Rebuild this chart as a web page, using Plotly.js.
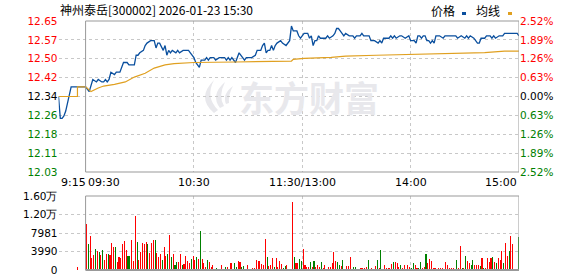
<!DOCTYPE html>
<html><head><meta charset="utf-8">
<script src="https://cdn.plot.ly/plotly-3.0.1.min.js"></script>
<style>html,body{margin:0;padding:0;background:#fff;overflow:hidden}#chart{width:578px;height:276px}</style>
</head><body><div id="chart"></div>
<script>
// ---------- data ----------
const titleText = "神州泰岳[300002] 2026-01-23 15:30";
const preClose = 12.34;
const pctSteps = [-4, -3, -2, -1, 0, 1, 2, 3, 4];          // multiples of 0.63 %
const priceTickLabels = ["12.03","12.11","12.18","12.26","12.34","12.42","12.50","12.57","12.65"];
const pctTickLabels = ["2.52%","1.89%","1.26%","0.63%","0.00%","0.63%","1.26%","1.89%","2.52%"];
const volTickVals = [0, 3990, 7981, 11971, 15962];
const volTickLabels = ["0", "3990", "7981", "1.20万", "1.60万"];
const timeTickVals = [-15, 0, 60, 120, 180, 240];        // minutes from 09:30
const timeTickLabels = ["9:15", "09:30", "10:30", "11:30/13:00", "14:00", "15:00"];
const legendNames = ["价格", "均线"];
const watermarkText = "东方财富";

// pre-market auction (minutes before 09:30)
const preTime  = [-15, -14, -13, -12, -11, -10, -9, -8, -5, 0];
const prePrice = [12.34, 12.25, 12.25, 12.26, 12.28, 12.31, 12.35, 12.38, 12.38, 12.38];
const preAvgTime = [-15, -4.5, 0];
const preAvg     = [12.34, 12.38, 12.38];
const preVolTime = [-5];
const preVol     = [580];

// continuous session (minutes from 09:30; 11:30/13:00 = 120)
const sessTime = [0,2,4,6,7,9,10,11,12,13,14,16,17,19,20,21,23,24,27,28,29,30,32,33,34,36,38,39,40,41,43,44,45,46,47,48,50,51,52,54,55,57,58,59,60,61,62,63,64,66,67,68,69,71,72,74,77,78,79,80,81,82,83,85,86,87,88,89,92,94,95,97,98,99,100,101,102,103,104,105,106,108,109,111,112,113,114,115,117,118,119,120,121,123,124,125,126,127,128,129,130,132,133,134,135,137,138,139,140,141,142,143,144,146,148,149,150,152,153,154,157,158,160,162,163,164,165,167,168,169,170,171,172,174,175,177,179,180,182,183,184,185,186,187,188,189,190,191,192,193,194,196,198,199,201,204,205,206,208,210,211,212,213,215,216,217,218,219,221,222,224,225,226,227,229,230,231,232,233,235,236,238,239,240];
const sessPrice = [12.38,12.36,12.41,12.40,12.41,12.40,12.40,12.41,12.40,12.41,12.44,12.43,12.44,12.44,12.46,12.48,12.48,12.47,12.47,12.51,12.51,12.52,12.53,12.55,12.56,12.57,12.57,12.54,12.56,12.56,12.53,12.55,12.51,12.53,12.52,12.53,12.52,12.53,12.52,12.53,12.53,12.53,12.52,12.51,12.50,12.48,12.47,12.46,12.49,12.49,12.50,12.49,12.50,12.50,12.49,12.50,12.50,12.49,12.50,12.49,12.50,12.49,12.48,12.52,12.51,12.50,12.49,12.50,12.50,12.51,12.53,12.53,12.55,12.56,12.52,12.53,12.53,12.55,12.53,12.55,12.56,12.57,12.56,12.55,12.56,12.57,12.63,12.61,12.61,12.59,12.58,12.59,12.60,12.60,12.58,12.59,12.55,12.57,12.57,12.59,12.58,12.58,12.58,12.59,12.58,12.59,12.60,12.62,12.62,12.61,12.60,12.59,12.60,12.59,12.59,12.58,12.59,12.59,12.60,12.59,12.59,12.57,12.57,12.56,12.57,12.56,12.58,12.58,12.58,12.59,12.58,12.59,12.58,12.59,12.59,12.58,12.59,12.57,12.57,12.56,12.59,12.59,12.58,12.59,12.59,12.57,12.57,12.56,12.57,12.56,12.59,12.59,12.58,12.59,12.59,12.59,12.59,12.58,12.59,12.58,12.59,12.58,12.59,12.58,12.57,12.56,12.56,12.58,12.58,12.59,12.59,12.58,12.59,12.58,12.59,12.59,12.59,12.60,12.60,12.60,12.60,12.60,12.60,12.59];
const avgTime  = [0,3,7,10,16,22,27,33,38,41,44,49,60,83,99,114,115,121,136,144,161,181,205,221,232,240];
const avgPrice = [12.38,12.36,12.375,12.383,12.39,12.40,12.42,12.436,12.457,12.465,12.47,12.475,12.48,12.482,12.484,12.486,12.493,12.497,12.501,12.506,12.51,12.514,12.517,12.521,12.527,12.527];

// volume per minute (index = minutes from 09:30), direction 1 = up (red), -1 = down (green)
const volume = [9920,5610,7330,2590,3240,4460,4100,3880,3240,4310,2160,3450,3450,3240,5900,5030,5030,1800,2880,2590,
5610,6330,4310,3020,3020,6470,2010,11650,6040,2160,3960,5900,5610,6040,5610,3740,5750,6470,6470,3600,
2880,3450,2160,5030,3020,3450,7550,2880,3450,1080,1800,1800,3450,1080,1290,3020,2010,1580,2300,3020,
2160,2730,2300,8480,2300,1580,720,2160,1800,580,1080,290,430,220,220,1080,300,580,720,300,
1440,300,1440,580,2010,1800,580,860,300,1080,300,300,360,360,2160,1940,1940,1290,1080,6620,
2730,860,1080,2590,720,2520,580,1940,1290,360,860,1080,220,220,14670,2730,1440,1580,2370,1940,
4460,1080,580,580,1730,580,1940,580,1080,580,1730,360,1080,290,580,580,1440,3880,1940,1730,
1080,860,2160,300,860,860,2730,290,580,580,290,220,360,430,430,580,2160,300,430,300,
860,2160,430,4310,300,1080,360,430,430,1290,1730,1730,1580,580,1010,430,1010,300,1010,580,
430,1580,1010,430,430,1730,430,720,3450,1580,2370,1870,430,430,300,430,430,430,300,1730,
1150,430,430,430,290,2160,430,5180,430,430,2950,2010,1440,1010,2160,1010,1010,1010,860,2590,
430,430,2590,1730,2590,2880,1730,1580,2590,2160,4170,1580,5750,3020,4170,7330,5610,0,0,7120];
const volDir = [1,-1,1,1,1,-1,1,-1,1,-1,1,1,-1,1,1,1,-1,1,1,1,
1,1,1,-1,-1,1,1,1,-1,1,1,1,1,1,-1,1,1,1,-1,1,
1,1,-1,1,1,-1,1,-1,1,-1,-1,1,1,-1,1,1,1,1,-1,1,
1,-1,1,-1,1,1,1,-1,1,1,1,-1,-1,1,1,1,1,-1,1,1,
1,-1,-1,-1,1,1,-1,-1,1,1,1,1,1,1,1,1,1,1,1,1,
-1,1,1,1,-1,1,1,1,1,-1,-1,1,1,1,1,-1,1,1,-1,-1,
1,1,1,1,-1,1,-1,1,1,1,-1,1,1,-1,1,1,1,1,1,-1,
-1,1,-1,1,1,1,1,1,-1,-1,1,1,1,1,1,1,-1,1,1,1,
1,-1,1,-1,1,1,1,1,1,1,-1,1,1,1,-1,1,1,1,1,1,
-1,-1,1,1,-1,-1,1,1,-1,1,1,1,1,1,1,1,1,1,1,1,
1,1,1,1,1,-1,1,1,-1,1,-1,1,1,-1,-1,1,1,1,-1,1,
-1,1,1,1,1,-1,1,-1,1,1,1,-1,1,1,-1,1,1,1,1,-1];

// ---------- styles ----------
const W = 578, H = 276;
const RED = "#ff0000", GREEN = "#008000", BLUE = "#0a4f9e", ORANGE = "#e0a020";
const GRID = "#c8c8c8", FRAME = "#999999";
const px = x => x / W, py = y => 1 - y / H;

const priceVals = pctSteps.map(k => preClose * (1 + k * 0.0063));
const colorFor = k => k > 0 ? RED : (k < 0 ? GREEN : "#000000");
const leftText = pctSteps.map((k, i) => `<span style="color:${colorFor(k)}">${priceTickLabels[i]}</span>`);
const rightText = pctSteps.map((k, i) => `<span style="color:${colorFor(k)}">${pctTickLabels[i]}</span>`);
const yMin = preClose * (1 - 0.0252), yMax = preClose * (1 + 0.0252);

const volX = volume.map((v, i) => i + 0.5);
const volColors = volDir.map(d => d > 0 ? RED : GREEN);

const traces = [
  {x: preTime.concat(sessTime), y: prePrice.concat(sessPrice), type: "scatter", mode: "lines",
   line: {color: BLUE, width: 1.3}, xaxis: "x", yaxis: "y", hoverinfo: "skip"},
  {x: preAvgTime, y: preAvg, type: "scatter", mode: "lines", line: {color: ORANGE, width: 1.2, shape: "hv"},
   xaxis: "x", yaxis: "y", hoverinfo: "skip"},
  {x: avgTime, y: avgPrice, type: "scatter", mode: "lines", line: {color: ORANGE, width: 1.2},
   xaxis: "x", yaxis: "y", hoverinfo: "skip"},
  {x: [yMin], y: [yMin], type: "scatter", mode: "none", xaxis: "x", yaxis: "y2", hoverinfo: "skip", showlegend: false},
  {x: volX, y: volume, type: "bar", marker: {color: volColors, line: {width: 0}}, width: 0.6,
   xaxis: "x2", yaxis: "y3", hoverinfo: "skip"},
  {x: preVolTime.map(t => t + 0.5), y: preVol, type: "bar", marker: {color: RED, line: {width: 0}}, width: 0.6,
   xaxis: "x2", yaxis: "y3", hoverinfo: "skip"}
];

const tickFont = {family: "DejaVu Sans", size: 10.5};
const xDomain = [58.5 / W, 519 / W];
const gridTimes = [-15, 60, 120, 180];

const layout = {
  width: W, height: H, margin: {l: 0, r: 0, t: 0, b: 0}, showlegend: false,
  paper_bgcolor: "#ffffff", plot_bgcolor: "rgba(0,0,0,0)", bargap: 0,
  xaxis: {domain: xDomain, range: [-15, 240], anchor: "y", tickvals: gridTimes, showticklabels: false,
          showgrid: true, gridcolor: GRID, griddash: "3px,3px", gridwidth: 1, zeroline: false, ticks: "", fixedrange: true},
  yaxis: {domain: [py(172), py(21)], range: [yMin, yMax], tickvals: priceVals, ticktext: leftText,
          tickfont: tickFont, showgrid: true, gridcolor: GRID, griddash: "3px,3px", zeroline: false, ticks: "", anchor: "x"},
  yaxis2: {overlaying: "y", side: "right", anchor: "x", range: [yMin, yMax], tickvals: priceVals, ticktext: rightText,
           tickfont: tickFont, showgrid: false, zeroline: false, ticks: ""},
  xaxis2: {domain: xDomain, range: [-15, 240], anchor: "y3", tickvals: gridTimes, showticklabels: false,
           showgrid: true, gridcolor: GRID, griddash: "3px,3px", zeroline: false, ticks: ""},
  yaxis3: {domain: [py(270), py(196)], range: [0, 15962], tickvals: volTickVals, ticktext: volTickLabels,
           tickfont: Object.assign({color: "#000"}, tickFont), showgrid: true, gridcolor: GRID, griddash: "3px,3px",
           zeroline: false, ticks: "", anchor: "x2"},
  shapes: [
    {type: "rect", xref: "x", x0: 0, x1: 240, yref: "y domain", y0: 0, y1: 1, line: {color: FRAME, width: 1}},
    {type: "rect", xref: "x2", x0: 0, x1: 240, yref: "y3 domain", y0: 0, y1: 1, line: {color: FRAME, width: 1}},
    {type: "line", xref: "x2", x0: 0, x1: 240, yref: "y3 domain", y0: 0, y1: 0, line: {color: FRAME, width: 2}},
    {type: "rect", xref: "paper", yref: "paper", x0: px(462), x1: px(466), y0: py(15), y1: py(12),
     fillcolor: BLUE, line: {width: 0}},
    {type: "rect", xref: "paper", yref: "paper", x0: px(508), x1: px(512), y0: py(15), y1: py(12),
     fillcolor: ORANGE, line: {width: 0}},
    // watermark logo (approximation)
    {type: "path", xref: "paper", yref: "paper", layer: "below",
     path: `M ${px(214)},${py(113)} Q ${px(196)},${py(98)} ${px(214)},${py(80)} Q ${px(205)},${py(97)} ${px(218)},${py(110)} Z`,
     fillcolor: "#e8e8ec", line: {width: 0}},
    {type: "path", xref: "paper", yref: "paper", layer: "below",
     path: `M ${px(220)},${py(108)} Q ${px(210)},${py(95)} ${px(225)},${py(82)} Q ${px(218)},${py(96)} ${px(224)},${py(106)} Z`,
     fillcolor: "#e8e8ec", line: {width: 0}},
    {type: "path", xref: "paper", yref: "paper", layer: "below",
     path: `M ${px(226)},${py(104)} Q ${px(222)},${py(94)} ${px(233)},${py(86)} Q ${px(228)},${py(95)} ${px(229)},${py(103)} Z`,
     fillcolor: "#e8e8ec", line: {width: 0}}
  ],
  annotations: [
    {text: titleText, xref: "paper", yref: "paper", x: px(58), y: py(9), xanchor: "left", yanchor: "middle",
     showarrow: false, font: {family: "Noto Sans CJK SC", size: 12, color: "#000"}},
    {text: legendNames[0], xref: "paper", yref: "paper", x: px(443), y: py(10), xanchor: "center", yanchor: "middle",
     showarrow: false, font: {family: "Noto Sans CJK SC", size: 12, color: "#000"}},
    {text: legendNames[1], xref: "paper", yref: "paper", x: px(488), y: py(10), xanchor: "center", yanchor: "middle",
     showarrow: false, font: {family: "Noto Sans CJK SC", size: 12, color: "#000"}},
    {text: watermarkText, xref: "paper", yref: "paper", x: px(309), y: py(96), xanchor: "center", yanchor: "middle",
     showarrow: false, font: {family: "Noto Sans CJK SC", size: 35, color: "#e8e8ec", weight: "bold"}}
  ].concat(timeTickVals.map((t, i) => ({
     text: timeTickLabels[i], xref: "x", yref: "paper", x: t, y: py(182), yanchor: "middle",
     xanchor: i <= 1 ? "left" : (i === timeTickVals.length - 1 ? "right" : "center"),
     showarrow: false, font: {family: "DejaVu Sans", size: 11, color: "#000"}})))
};

Plotly.newPlot("chart", traces, layout, {staticPlot: true, displayModeBar: false});
</script>
</body></html>
